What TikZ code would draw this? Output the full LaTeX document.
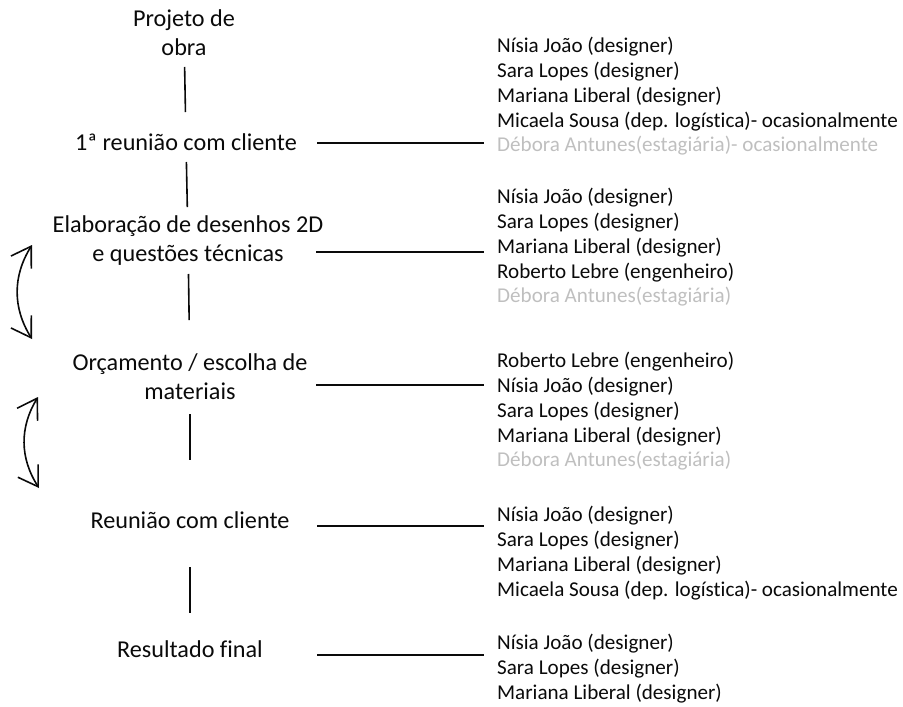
\documentclass[tikz,border=0pt]{standalone}
\usepackage{fontspec}
\setmainfont{Carlito}[Ligatures={NoCommon,NoContextual}]
\usepackage{xcolor}
\usetikzlibrary{arrows.meta,positioning}
\definecolor{inkblack}{HTML}{0A0A0A}
\definecolor{faded}{HTML}{BFBFBF}
\tikzset{
  stepnode/.style={align=center, inner sep=0pt, text=inkblack, font=\fontsize{24.2}{29}\selectfont},
  crew/.style={align=left, anchor=north west, inner sep=0pt, text=inkblack, font=\fontsize{21.1}{24.8}\selectfont},
  link/.style={draw=inkblack, line width=1.6pt},
  loopback/.style={{Straight Barb[length=19pt,width=24pt]}-{Straight Barb[length=19pt,width=24pt]}, draw=inkblack, line width=1.6pt, bend right=32}
}

\begin{document}
\begin{tikzpicture}[x=1pt, y=-1pt]
  \useasboundingbox (0,0) rectangle (903,707);

  % steps of the process
  \node[stepnode] (proj) at (184,33) {Projeto de\\obra};
  \node[stepnode] (reun1) at (186,142) {1ª reunião com cliente};
  \node[stepnode] (elab) at (188,241) {Elaboração de desenhos 2D\\e questões técnicas};
  \node[stepnode] (orc) at (190,377) {Orçamento / escolha de\\materiais};
  \node[stepnode] (reun2) at (190,520) {Reunião com cliente};
  \node[stepnode] (final) at (190,649) {Resultado final};

  % people involved in each step
  \node[crew] (team1) at (497,37) {
    Nísia João (designer)\\
    Sara Lopes (designer)\\
    Mariana Liberal (designer)\\
    Micaela Sousa (dep. logística)- ocasionalmente\\
    {\color{faded}Débora Antunes(estagiária)- ocasionalmente}};
  \node[crew] (team2) at (497,188) {
    Nísia João (designer)\\
    Sara Lopes (designer)\\
    Mariana Liberal (designer)\\
    Roberto Lebre (engenheiro)\\
    {\color{faded}Débora Antunes(estagiária)}};
  \node[crew] (team3) at (497,352) {
    Roberto Lebre (engenheiro)\\
    Nísia João (designer)\\
    Sara Lopes (designer)\\
    Mariana Liberal (designer)\\
    {\color{faded}Débora Antunes(estagiária)}};
  \node[crew] (team4) at (497,506) {
    Nísia João (designer)\\
    Sara Lopes (designer)\\
    Mariana Liberal (designer)\\
    Micaela Sousa (dep. logística)- ocasionalmente};
  \node[crew] (team5) at (497,634) {
    Nísia João (designer)\\
    Sara Lopes (designer)\\
    Mariana Liberal (designer)};

  % start points of the links to the teams
  \coordinate (s1) at (317,143);
  \coordinate (s2) at (316,252);
  \coordinate (s3) at (316,385);
  \coordinate (s4) at (317,526);
  \coordinate (s5) at (317,655);

  % ends of the two loop arrows
  \coordinate (up1) at (32,245);
  \coordinate (dn1) at (32,339);
  \coordinate (up2) at (38,397);
  \coordinate (dn2) at (39,488);

  \draw[link, shorten <=34pt, shorten >=30pt] (proj.center) -- (reun1.center);
  \draw[link, shorten <=20pt, shorten >=34pt] (reun1.center) -- (elab.center);
  \draw[link, shorten <=33pt, shorten >=57pt] (elab.center) -- (orc.center);
  \draw[link, shorten <=37pt, shorten >=60pt] (orc.center) -- (reun2.center);
  \draw[link, shorten <=47pt, shorten >=36pt] (reun2.center) -- (final.center);

  \draw[link, shorten >=13pt] (s1) -- (team1.west |- s1);
  \draw[link, shorten >=13pt] (s2) -- (team2.west |- s2);
  \draw[link, shorten >=13pt] (s3) -- (team3.west |- s3);
  \draw[link, shorten >=13pt] (s4) -- (team4.west |- s4);
  \draw[link, shorten >=13pt] (s5) -- (team5.west |- s5);

  \draw[loopback] (up1) to (dn1);
  \draw[loopback] (up2) to (dn2);
\end{tikzpicture}
\end{document}
